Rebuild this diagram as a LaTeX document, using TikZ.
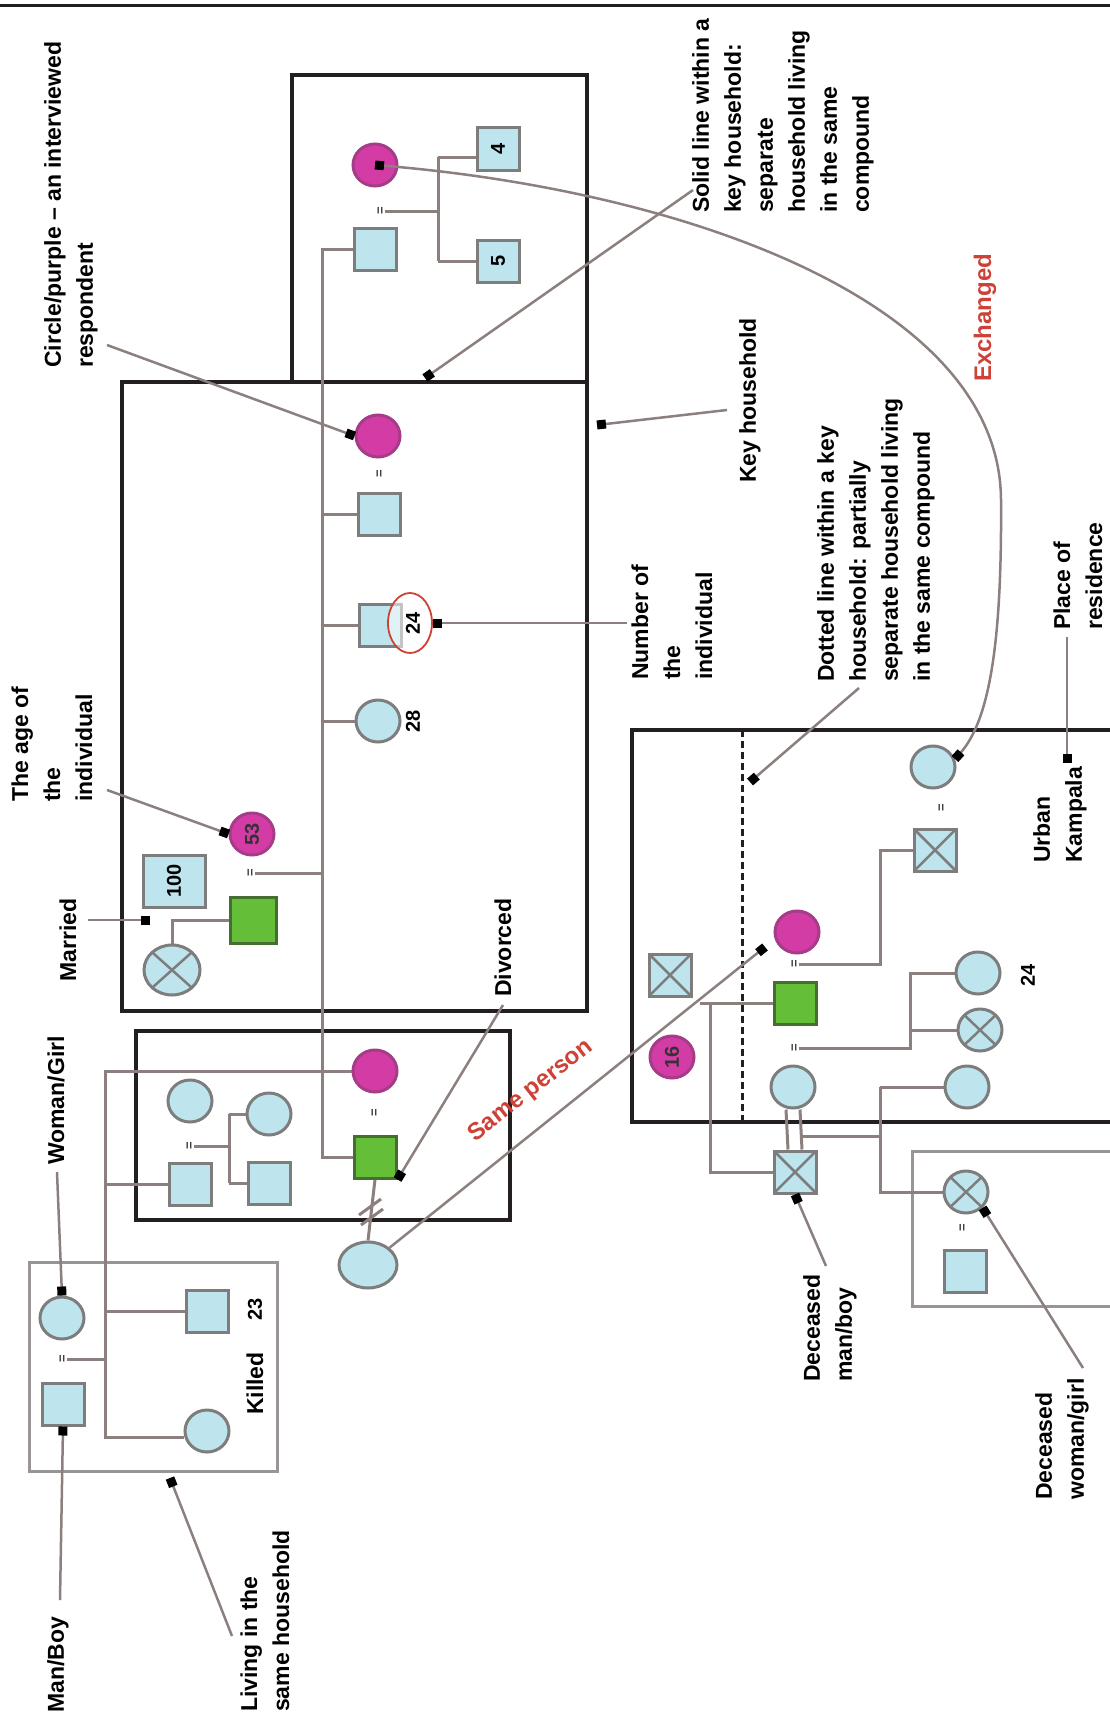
\documentclass[tikz,border=0pt]{standalone}
\usepackage{fontspec}
\usepackage{graphicx}
\setmainfont{Liberation Sans}
\usetikzlibrary{arrows.meta,shapes.geometric}
\definecolor{lblue}{RGB}{190,228,238}
\definecolor{symline}{RGB}{125,125,125}
\definecolor{purp}{RGB}{212,60,165}
\definecolor{purpline}{RGB}{165,60,135}
\definecolor{grn}{RGB}{100,190,55}
\definecolor{grnline}{RGB}{70,110,50}
\definecolor{conn}{RGB}{140,128,126}
\definecolor{boxc}{RGB}{35,31,32}
\definecolor{redt}{RGB}{205,65,55}
\definecolor{thinbox}{RGB}{155,148,148}
\pgfdeclarelayer{back}
\pgfdeclarelayer{mid}
\pgfdeclarelayer{front}
\pgfsetlayers{back,mid,main,front}
\tikzset{
  sym/.style={draw=symline, line width=3pt, fill=lblue, inner sep=0pt},
  sq/.style={sym, rectangle, minimum width=42pt, minimum height=42pt},
  ci/.style={sym, ellipse, minimum width=44pt, minimum height=42pt},
  pc/.style={ci, fill=purp, draw=purpline},
  gsq/.style={sq, fill=grn, draw=grnline},
  crossed/.style={path picture={\draw[symline, line width=2.5pt]
      (path picture bounding box.north west) -- (path picture bounding box.south east)
      (path picture bounding box.north east) -- (path picture bounding box.south west);}},
  rel/.style={draw=conn, line width=3pt},
  ann/.style={draw=conn, line width=2.5pt, -{Square[length=9pt,width=9pt,color=black]}},
  bx/.style={draw=boxc, line width=4.5pt},
  tbx/.style={draw=thinbox, line width=3pt},
  lab/.style={font=\fontsize{23}{32}\selectfont\bfseries, rotate=90, anchor=west, align=left, inner sep=0pt},
  num/.style={font=\fontsize{20}{22}\selectfont\bfseries},
  eqm/.style={font=\fontsize{13}{13}\selectfont\bfseries, text=black!75, inner sep=0pt},
  redring/.style={ellipse, draw=redt, line width=1.8pt, fill=white, fill opacity=0.55, text opacity=1, minimum width=44pt, minimum height=60pt, inner sep=0pt},
  redlab/.style={font=\fontsize{24}{26}\selectfont\bfseries, text=redt, inner sep=0pt},
}
\begin{document}
\begin{tikzpicture}[x=1pt,y=-1pt]
\useasboundingbox (0,0) rectangle (1110,1726);
\begin{pgfonlayer}{back}
\fill[white] (0,0) rectangle (1110,1726);
\draw[boxc, line width=3pt] (0,6) -- (1110,6);
\draw[bx] (292,75) rectangle (587,382);
\draw[bx] (122,382) rectangle (587,1011);
\draw[bx] (136,1031) rectangle (510,1220);
\draw[tbx] (29,1262) rectangle (277,1471);
\draw[bx] (1114,730) -- (632,730) -- (632,1122) -- (1114,1122);
\draw[boxc, line width=3pt, dash pattern=on 7pt off 4pt] (742,730) -- (742,1122);
\draw[tbx] (1114,1151) -- (912,1151) -- (912,1306) -- (1114,1306);
\end{pgfonlayer}

% ---- box A
\node[pc] (PA) at (375,165) {};
\node[eqm] (eA) at (381,211) {\rotatebox{90}{=}};
\node[sq] (SA) at (375,249) {};
\node[sq,num] (S4) at (498,149) {\rotatebox{90}{4}};
\node[sq,num] (S5) at (498,261) {\rotatebox{90}{5}};
% ---- box B
\node[pc] (PB) at (378,436) {};
\node[eqm] (eB) at (380,474) {\rotatebox{90}{=}};
\node[sq] (SB1) at (379,514) {};
\node[sq] (SB2) at (380,625) {};
\node[redring] (RC) at (410,623) {};
\node[num] (n24a) at (413,623) {\rotatebox{90}{24}};
\node[ci] (CB3) at (378,721) {};
\node[num] (n28) at (413,721) {\rotatebox{90}{28}};
\node[pc,num,text=black!80] (PB53) at (252,834) {\rotatebox{90}{53}};
\node[eqm] (eB2) at (251,873) {\rotatebox{90}{=}};
\node[gsq, minimum width=46pt, minimum height=46pt] (GB) at (253,920) {};
\node[ci, crossed, minimum width=56pt, minimum height=50pt] (XB) at (172,970) {};
\node[sq, num, minimum width=62pt, minimum height=52pt] (N100) at (174,881) {\rotatebox{90}{100}};
% ---- box C
\node[pc] (PC) at (375,1071) {};
\node[eqm] (eC) at (375,1113) {\rotatebox{90}{=}};
\node[gsq] (GC) at (375,1157) {};
\node[ci] (CC1) at (190,1101) {};
\node[ci] (CC2) at (269,1114) {};
\node[sq] (SC1) at (190,1184) {};
\node[sq] (SC2) at (269,1183) {};
\node[eqm] (eC2) at (190,1146) {\rotatebox{90}{=}};
\node[ci, minimum width=58pt, minimum height=46pt] (EC) at (368,1265) {};
% ---- box D
\node[ci] (CD1) at (62,1318) {};
\node[eqm] (eD) at (63,1359) {\rotatebox{90}{=}};
\node[sq] (SD1) at (63,1404) {};
\node[sq] (SD2) at (207,1311) {};
\node[num] (n23) at (255,1309) {\rotatebox{90}{23}};
\node[ci] (CD2) at (207,1431) {};
% ---- box E
\node[ci] (CE1) at (933,767) {};
\node[eqm] (eE1) at (942,808) {\rotatebox{90}{=}};
\node[sq,crossed] (XE1) at (935,850) {};
\node[sq,crossed] (XE0) at (670,975) {};
\node[pc,num,text=black!80] (PE) at (672,1057) {\rotatebox{90}{16}};
\node[pc] (PE2) at (797,932) {};
\node[eqm] (eE2) at (795,964) {\rotatebox{90}{=}};
\node[gsq] (GE) at (795,1003) {};
\node[eqm] (eE3) at (795,1048) {\rotatebox{90}{=}};
\node[ci] (CE2) at (793,1087) {};
\node[ci] (CE3) at (978,973) {};
\node[num] (n24b) at (1028,975) {\rotatebox{90}{24}};
\node[ci,crossed] (XCE) at (980,1030) {};
\node[ci] (CE4) at (967,1087) {};
\node[sq,crossed] (XS) at (795,1172) {};
\node[ci,crossed] (XC2) at (966,1192) {};
\node[eqm] (eF) at (963,1228) {\rotatebox{90}{=}};
\node[sq] (SF) at (965,1271) {};

\begin{pgfonlayer}{mid}
% box A
\draw[rel] (eA.east) -- (438,211);
\draw[rel] (438,157) -- (438,261);
\draw[rel] (438,157) -- (S4.west |- 438,157);
\draw[rel] (438,261) -- (S5.west);
% main trunk
\draw[rel] (SA.west) -- (322,249) -- (322,1157) -- (GC.west);
\draw[rel] (322,514) -- (SB1.west);
\draw[rel] (322,625) -- (SB2.west);
\draw[rel] (322,721) -- (CB3.west);
\draw[rel] (eB2.east) -- (322,873);
\draw[rel] (GB.west) -- (XB.north |- GB.west) -- (XB.north);
% box C / D
\draw[rel] (PC.west) -- (105,1071) -- (105,1437) -- (CD2.west |- 105,1437);
\draw[rel] (105,1184) -- (SC1.west);
\draw[rel] (105,1311) -- (SD2.west);
\draw[rel] (eD.east) -- (105,1359);
\draw[rel] (eC2.east) -- (229,1146);
\draw[rel] (229,1114) -- (229,1183);
\draw[rel] (229,1114) -- (CC2.west);
\draw[rel] (229,1183) -- (SC2.west);
\draw[rel] (GC.south) -- (EC.north);
\draw[rel] (359,1215) -- (381,1199);
\draw[rel] (361,1225) -- (383,1209);
% box E
\draw[rel] (eE2.east) -- (880,964) -- (880,850) -- (XE1.west);
\draw[rel] (GE.west) -- (700,1003);
\draw[rel] (710,1003) -- (710,1172) -- (XS.west);
\draw[rel] (eE3.east) -- (910,1048) -- (910,973) -- (CE3.west);
\draw[rel] (910,1030) -- (XCE.west);
\draw[rel] ([xshift=-7pt]CE2.south) -- ([xshift=-7pt]XS.north);
\draw[rel] ([xshift=7pt]CE2.south) -- ([xshift=7pt]XS.north);
\draw[rel] (802,1136) -- (880,1136);
\draw[rel] (880,1087) -- (880,1192) -- (XC2.west);
\draw[rel] (880,1087) -- (CE4.west);
\end{pgfonlayer}

\begin{pgfonlayer}{front}
% labels
\node[lab] (Lcirc) at (71,368) {Circle/purple – an interviewed\\respondent};
\node[lab] (Lage) at (52,802) {The age of\\the\\individual};
\node[lab] (Lmar) at (68,982) {Married};
\node[lab] (Lwom) at (56,1165) {Woman/Girl};
\node[lab] (Lman) at (58,1713) {Man/Boy};
\node[lab] (Lliv) at (265,1712) {Living in the\\same household};
\node[lab] (Lkill) at (255,1415) {Killed};
\node[lab] (Ldiv) at (503,997) {Divorced};
\node[lab] (Lnum) at (672,680) {Number of\\the\\individual};
\node[lab] (Lkey) at (750,483) {Key household};
\node[lab] (Lsol) at (783,213) {Solid line within a\\key household:\\separate\\household living\\in the same\\compound};
\node[lab] (Ldot) at (876,682) {Dotted line within a key\\household: partially\\separate household living\\in the same compound};
\node[lab] (Lpla) at (1078,630) {Place of\\residence};
\node[lab] (Lurb) at (1060,863) {Urban\\Kampala};
\node[lab] (Ldmb) at (830,1382) {Deceased\\man/boy};
\node[lab] (Ldwg) at (1062,1500) {Deceased\\woman/girl};
\node[redlab, rotate=90, anchor=west] (Lexc) at (985,382) {Exchanged};
\node[redlab, rotate=38] (Lsame) at (531,1091) {Same person};
% annotation connectors
\coordinate (KH) at (597,425);
\coordinate (SL) at (425,378);
\coordinate (DL) at (750,782);
\coordinate (UR) at (1067,763);
\coordinate (LV) at (170,1478);
\coordinate (MR) at (150,920);
\coordinate (SP) at (765,947);
\draw[ann] (107,345) -- (PB.west);
\draw[ann] (107,790) -- (PB53.west);
\draw[ann] (88,920) -- (MR);
\draw[ann] (57,1172) -- (CD1.north);
\draw[ann] (60,1600) -- (SD1.south);
\draw[ann] (232,1636) -- (LV);
\draw[ann] (503,1005) -- (GC.south east);
\draw[ann] (EC.north east) -- (SP);
\draw[ann] (627,623) -- (RC.east);
\draw[ann] (727,410) -- (KH);
\draw[ann] (693,190) -- (SL);
\draw[ann] (859,688) -- (DL);
\draw[ann] (1067,637) -- (UR);
\draw[ann] (826,1266) -- (XS.south);
\draw[ann] (1083,1368) -- (XC2.south east);
\draw[draw=conn, line width=2.5pt, {Square[length=9pt,width=9pt,color=black]}-{Square[length=9pt,width=9pt,color=black]}]
  (PA.center) .. controls (680,190) and (1000,300) .. (1001,500)
  .. controls (1002,640) and (990,720) .. (CE1.20);
\end{pgfonlayer}
\end{tikzpicture}
\end{document}
